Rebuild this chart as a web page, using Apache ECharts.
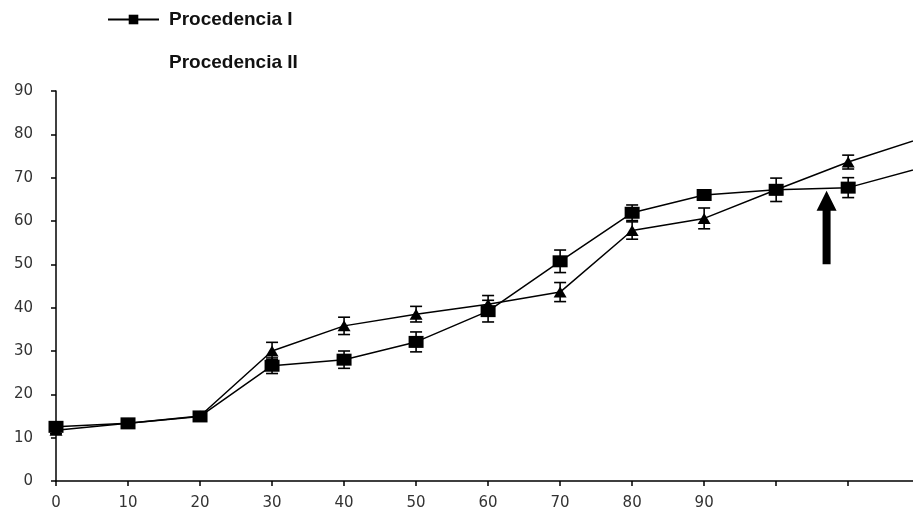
<!DOCTYPE html>
<html>
<head>
<meta charset="utf-8">
<script src="https://cdn.jsdelivr.net/npm/echarts@6/dist/echarts.min.js"></script>
<style>
html,body{margin:0;padding:0;background:#fff;}
#c{width:913px;height:511px;}
</style>
</head>
<body>
<div id="c"></div>
<script>
var xValues = [0, 10, 20, 30, 40, 50, 60, 70, 80, 90, 100, 110, 120];
var seriesNames = ['Procedencia I', 'Procedencia II'];
var procI = [12.5, 13.3, 14.9, 26.6, 28.0, 32.1, 39.2, 50.7, 61.9, 66.0, 67.2, 67.7, 72.2];
var procIErr = [1.0, 0, 0, 1.8, 2.0, 2.3, 2.5, 2.6, 1.8, 0, 2.7, 2.3, 0];
var procII = [11.7, 13.3, 15.0, 30.0, 35.8, 38.5, 40.8, 43.6, 57.8, 60.6, 67.2, 73.6, 79.0];
var procIIErr = [0.8, 0, 0, 2.0, 2.0, 1.8, 2.0, 2.2, 2.0, 2.4, 0, 1.6, 0];
var xTickLabels = ['0', '10', '20', '30', '40', '50', '60', '70', '80', '90'];
var arrowAt = [107, 50, 67]; // x, from y, to y

function pairs(xs, ys) { return xs.map(function (x, i) { return [x, ys[i]]; }); }
function errData(xs, ys, es) {
  var out = [];
  xs.forEach(function (x, i) { if (es[i] > 0) out.push([x, ys[i] - es[i], ys[i] + es[i]]); });
  return out;
}
function errRender(params, api) {
  var x = api.value(0);
  var lo = api.coord([x, api.value(1)]);
  var hi = api.coord([x, api.value(2)]);
  var w = 6;
  var st = { stroke: '#000', lineWidth: 1.6 };
  return {
    type: 'group',
    children: [
      { type: 'line', shape: { x1: lo[0], y1: lo[1], x2: hi[0], y2: hi[1] }, style: st },
      { type: 'line', shape: { x1: lo[0] - w, y1: lo[1], x2: lo[0] + w, y2: lo[1] }, style: st },
      { type: 'line', shape: { x1: hi[0] - w, y1: hi[1], x2: hi[0] + w, y2: hi[1] }, style: st }
    ]
  };
}
function arrowRender(params, api) {
  var b = api.coord([api.value(0), api.value(1)]);
  var t = api.coord([api.value(0), api.value(2)]);
  var sw = 4, hw = 10, hh = 20;
  var x = b[0];
  return {
    type: 'polygon',
    shape: {
      points: [[x - sw, b[1]], [x - sw, t[1] + hh], [x - hw, t[1] + hh], [x, t[1]],
               [x + hw, t[1] + hh], [x + sw, t[1] + hh], [x + sw, b[1]]]
    },
    style: { fill: '#000' }
  };
}

var chart = echarts.init(document.getElementById('c'), null, { renderer: 'canvas' });
var labelFont = { color: '#333', fontSize: 15, fontFamily: 'DejaVu Sans, sans-serif' };
var legendText = { color: '#111', fontSize: 19, fontWeight: 'bold', fontFamily: 'Liberation Sans, Arial, sans-serif', padding: [0, 0, 0, 5] };
chart.setOption({
  backgroundColor: '#fff',
  animation: false,
  legend: [
    {
      data: [seriesNames[0]], left: 107, top: 10, padding: 0, itemWidth: 51, itemHeight: 12, itemGap: 0,
      textStyle: legendText
    },
    {
      data: [seriesNames[1]], left: 107, top: 53, padding: 0, itemWidth: 51, itemHeight: 12, itemGap: 0,
      itemStyle: { opacity: 0 }, lineStyle: { opacity: 0 },
      textStyle: legendText
    }
  ],
  grid: { left: 56, right: 0, top: 91, bottom: 28, containLabel: false },
  xAxis: {
    type: 'value', min: 0, max: 119, interval: 10,
    axisLine: { lineStyle: { color: '#000', width: 1.5 } },
    axisTick: { show: true, length: 5, lineStyle: { color: '#000', width: 1.5 } },
    splitLine: { show: false },
    axisLabel: Object.assign({
      margin: 15, showMaxLabel: false,
      formatter: function (v) { var s = String(v); return xTickLabels.indexOf(s) >= 0 ? s : ''; }
    }, labelFont)
  },
  yAxis: {
    type: 'value', min: 0, max: 90, interval: 10,
    axisLine: { show: true, lineStyle: { color: '#000', width: 1.5 } },
    axisTick: { show: true, length: 5, lineStyle: { color: '#000', width: 1.5 } },
    splitLine: { show: false },
    axisLabel: Object.assign({ margin: 23 }, labelFont)
  },
  series: [
    {
      name: seriesNames[0], type: 'line', data: pairs(xValues, procI),
      symbol: 'rect', symbolSize: [15, 12], clip: true,
      lineStyle: { color: '#000', width: 1.5 }, itemStyle: { color: '#000' }, z: 3
    },
    {
      name: seriesNames[1], type: 'line', data: pairs(xValues, procII),
      symbol: 'triangle', symbolSize: [13, 11], clip: true,
      lineStyle: { color: '#000', width: 1.5 }, itemStyle: { color: '#000' }, z: 3
    },
    { type: 'custom', renderItem: errRender, data: errData(xValues, procI, procIErr), z: 4, silent: true },
    { type: 'custom', renderItem: errRender, data: errData(xValues, procII, procIIErr), z: 4, silent: true },
    { type: 'custom', renderItem: arrowRender, data: [arrowAt], z: 5, silent: true }
  ]
});
</script>
</body>
</html>
